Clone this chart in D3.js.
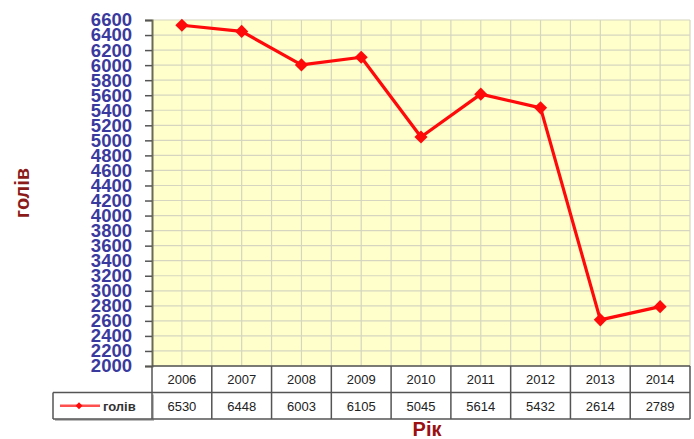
<!DOCTYPE html>
<html>
<head>
<meta charset="utf-8">
<script src="https://cdn.jsdelivr.net/npm/d3@7"></script>
<style>
  body { margin: 0; background: #fff; }
  svg { display: block; font-family: "Liberation Sans", Arial, sans-serif; }
</style>
</head>
<body>
<div id="chart"></div>
<script>
// chart data
const years = ['2006', '2007', '2008', '2009', '2010', '2011', '2012', '2013', '2014'];
const heads = [6530, 6448, 6003, 6105, 5045, 5614, 5432, 2614, 2789];
const seriesName = 'голів';
const yTicks = d3.range(2000, 6601, 200);
const yLabel = 'голів';
const xLabel = 'Рік';

const W = 694, H = 439;
const plot = {left: 152, right: 690, top: 20, bottom: 366};
const rowH = 26.5;

const svg = d3.select('#chart').append('svg')
  .attr('width', W).attr('height', H);

const x = d3.scaleBand().domain(years).range([plot.left, plot.right]);
const y = d3.scaleLinear().domain([2000, 6600]).range([plot.bottom, plot.top]);

// plot background
svg.append('rect')
  .attr('x', plot.left).attr('y', plot.top)
  .attr('width', plot.right - plot.left).attr('height', plot.bottom - plot.top)
  .attr('fill', '#ffffcc');

// grid - horizontal
svg.append('g').selectAll('line').data(yTicks).join('line')
  .attr('x1', plot.left).attr('x2', plot.right)
  .attr('y1', d => y(d)).attr('y2', d => y(d))
  .attr('stroke', '#d6d6c0').attr('stroke-width', 1.2);

// grid - vertical (category centres and boundaries)
const vlines = [];
years.forEach(yr => { vlines.push(x(yr) + x.bandwidth() / 2); vlines.push(x(yr) + x.bandwidth()); });
svg.append('g').selectAll('line').data(vlines).join('line')
  .attr('x1', d => d).attr('x2', d => d)
  .attr('y1', plot.top).attr('y2', plot.bottom)
  .attr('stroke', '#d6d6c0').attr('stroke-width', 1.2);

// y axis
const yAxis = svg.append('g')
  .attr('transform', `translate(${plot.left},0)`)
  .call(d3.axisLeft(y).tickValues(yTicks).tickSize(7).tickPadding(13).tickFormat(d3.format('d')));
yAxis.select('.domain').attr('stroke', '#6b6b55').attr('stroke-width', 2);
yAxis.selectAll('.tick line').attr('stroke', '#555').attr('stroke-width', 1.5);
yAxis.selectAll('.tick text')
  .attr('fill', '#3a3a9e')
  .attr('font-size', 18.5)
  .attr('font-weight', 'bold')
  .attr('font-family', '"Liberation Sans", Arial, sans-serif');

// line series
const line = d3.line()
  .x((d, i) => x(years[i]) + x.bandwidth() / 2)
  .y(d => y(d));
svg.append('path')
  .datum(heads)
  .attr('d', line)
  .attr('fill', 'none')
  .attr('stroke', '#ff0a0a')
  .attr('stroke-width', 3.2)
  .attr('stroke-linejoin', 'round');

svg.append('g').selectAll('path').data(heads).join('path')
  .attr('d', d3.symbol(d3.symbolDiamond2, 110))
  .attr('transform', (d, i) => `translate(${x(years[i]) + x.bandwidth() / 2},${y(d)})`)
  .attr('fill', '#ff0a0a');

// data table
const table = svg.append('g');
const tTop = plot.bottom;
const legendLeft = 53;
const border = '#555';

// legend cell shadow
table.append('rect')
  .attr('x', legendLeft + 2).attr('y', tTop + rowH + 2)
  .attr('width', plot.left - legendLeft).attr('height', rowH)
  .attr('fill', '#bbb');
table.append('rect')
  .attr('x', legendLeft).attr('y', tTop + rowH)
  .attr('width', plot.left - legendLeft).attr('height', rowH)
  .attr('fill', '#fff');

// outer lines
table.append('line').attr('x1', plot.left).attr('x2', plot.right)
  .attr('y1', tTop).attr('y2', tTop).attr('stroke', border).attr('stroke-width', 1.5);
table.append('line').attr('x1', legendLeft).attr('x2', plot.right)
  .attr('y1', tTop + rowH).attr('y2', tTop + rowH).attr('stroke', border).attr('stroke-width', 1.5);
table.append('line').attr('x1', legendLeft).attr('x2', plot.right)
  .attr('y1', tTop + 2 * rowH).attr('y2', tTop + 2 * rowH).attr('stroke', border).attr('stroke-width', 1.5);
table.append('line').attr('x1', legendLeft).attr('x2', legendLeft)
  .attr('y1', tTop + rowH).attr('y2', tTop + 2 * rowH).attr('stroke', border).attr('stroke-width', 1.5);
table.append('line').attr('x1', plot.left).attr('x2', plot.left)
  .attr('y1', tTop).attr('y2', tTop + 2 * rowH).attr('stroke', border).attr('stroke-width', 1.5);
table.selectAll('.col').data(years).join('line')
  .attr('class', 'col')
  .attr('x1', d => x(d) + x.bandwidth()).attr('x2', d => x(d) + x.bandwidth())
  .attr('y1', tTop).attr('y2', tTop + 2 * rowH)
  .attr('stroke', border).attr('stroke-width', 1.5);

// table texts
table.selectAll('.yr').data(years).join('text')
  .attr('class', 'yr')
  .attr('x', d => x(d) + x.bandwidth() / 2)
  .attr('y', tTop + rowH / 2 + 5)
  .attr('text-anchor', 'middle')
  .attr('font-size', 13)
  .attr('fill', '#222')
  .text(d => d);
table.selectAll('.val').data(heads).join('text')
  .attr('class', 'val')
  .attr('x', (d, i) => x(years[i]) + x.bandwidth() / 2)
  .attr('y', tTop + rowH * 1.5 + 5)
  .attr('text-anchor', 'middle')
  .attr('font-size', 13)
  .attr('fill', '#222')
  .text(d => d);

// legend key
const keyY = tTop + rowH * 1.5;
table.append('line').attr('x1', 60).attr('x2', 100)
  .attr('y1', keyY).attr('y2', keyY).attr('stroke', '#ff5050').attr('stroke-width', 2.5);
table.append('path').attr('d', d3.symbol(d3.symbolDiamond2, 30))
  .attr('transform', `translate(79,${keyY})`).attr('fill', '#ff0a0a');
table.append('text').attr('x', 103).attr('y', keyY + 5)
  .attr('font-size', 13).attr('font-weight', 'bold').attr('fill', '#333').text(seriesName);

// axis titles
svg.append('text')
  .attr('text-anchor', 'middle')
  .attr('transform', `translate(29,${(plot.top + plot.bottom) / 2}) rotate(-90)`)
  .attr('font-size', 20).attr('font-weight', 'bold').attr('fill', '#8b1a1a')
  .text(yLabel);
svg.append('text')
  .attr('text-anchor', 'middle')
  .attr('x', 427).attr('y', 436)
  .attr('font-size', 20).attr('font-weight', 'bold').attr('fill', '#9b1010')
  .text(xLabel);
</script>
</body>
</html>
